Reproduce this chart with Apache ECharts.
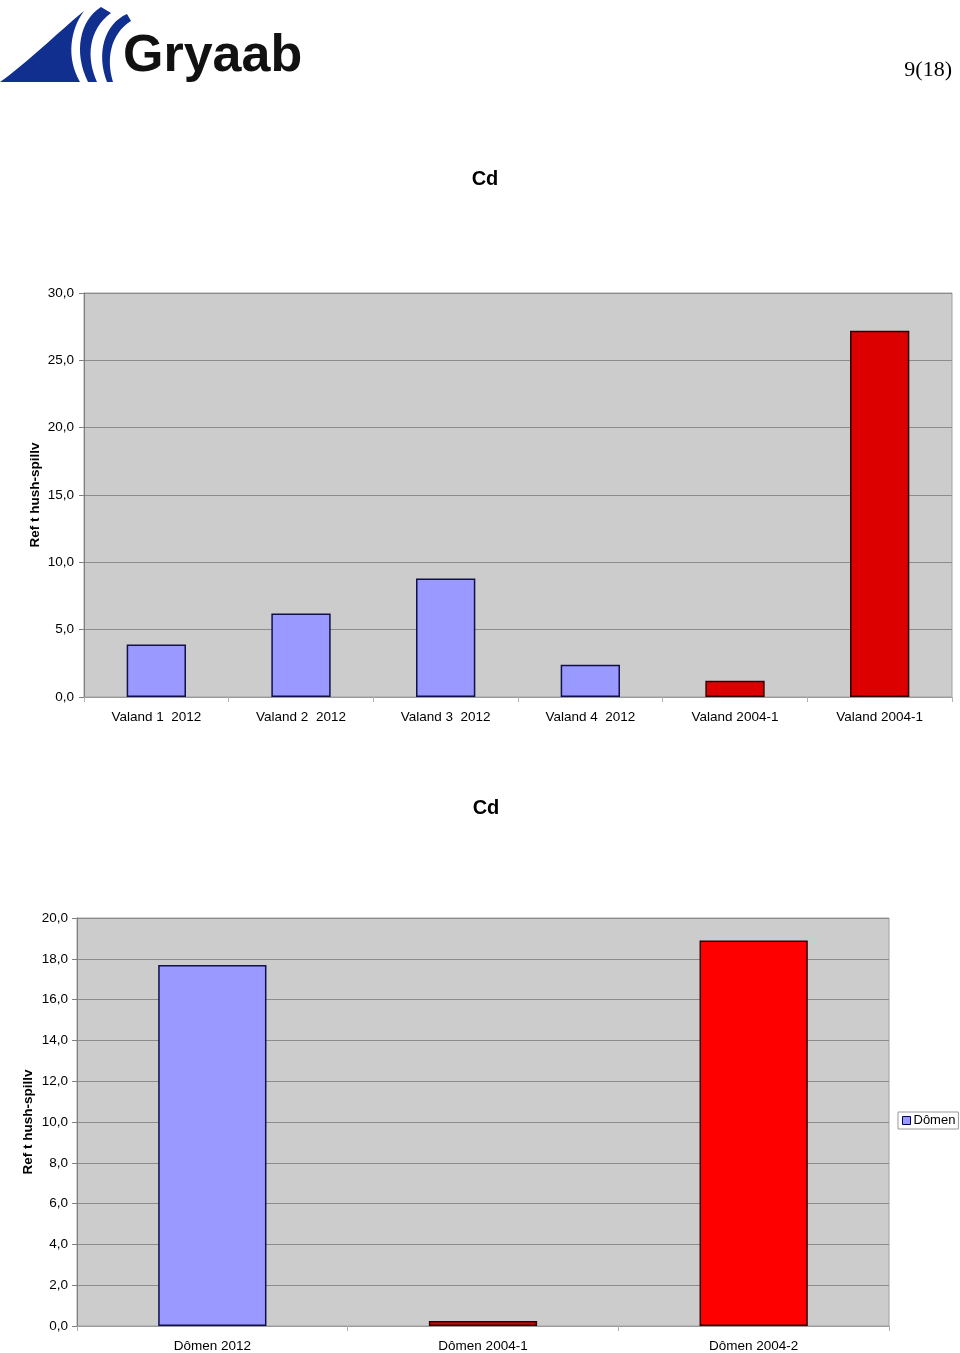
<!DOCTYPE html>
<html>
<head>
<meta charset="utf-8">
<script src="https://cdn.jsdelivr.net/npm/echarts@6/dist/echarts.min.js"></script>
<style>
html,body{margin:0;padding:0;background:#fff;}
#c{width:960px;height:1353px;}
</style>
</head>
<body>
<div id="c"></div>
<script>
// ---- data ----
const topTitle = 'Cd';
const topCategories = ['Valand 1  2012', 'Valand 2  2012', 'Valand 3  2012', 'Valand 4  2012', 'Valand 2004-1', 'Valand 2004-1'];
const topValues = [3.9, 6.2, 8.8, 2.4, 1.2, 27.2];
const topTicks = [0, 5, 10, 15, 20, 25, 30];

const bottomTitle = 'Cd';
const bottomSeriesName = 'Dômen';
const bottomCategories = ['Dômen 2012', 'Dômen 2004-1', 'Dômen 2004-2'];
const bottomValues = [17.7, 0.25, 18.9];
const bottomTicks = [0, 2, 4, 6, 8, 10, 12, 14, 16, 18, 20];

const yAxisName = 'Ref t hush-spillv';
const pageLabel = '9(18)';
const logoText = 'Gryaab';

// ---- styles ----
const BLUE = '#9999FF';
const DARKRED = '#DD0000';
const RED = '#FF0000';
const fmt = v => v.toFixed(1).replace('.', ',');
const baseFont = 'Liberation Sans, Arial, sans-serif';

function topColor(cat){ return cat.indexOf('2004') >= 0 ? DARKRED : BLUE; }
const bottomColorByIndex = [BLUE, DARKRED, RED];

// logo outline helper: sample cubic bezier segments into polygon points
function bez(p0, p1, p2, p3, n){
  const pts = [];
  for (let i = 0; i <= n; i++){
    const t = i / n, u = 1 - t;
    pts.push([
      u*u*u*p0[0] + 3*u*u*t*p1[0] + 3*u*t*t*p2[0] + t*t*t*p3[0],
      u*u*u*p0[1] + 3*u*u*t*p1[1] + 3*u*t*t*p2[1] + t*t*t*p3[1]
    ]);
  }
  return pts;
}
const logoMain = [].concat(bez([0,82],[28,62],[55,35],[84,11],16), bez([84,11],[70,30],[66,58],[80,82],16));
const logoArc1 = [].concat(bez([101,7],[80,20],[73,52],[88,82],16), [[97,82]], bez([97,82],[86,58],[88,30],[111,13],16));
const logoArc2 = [].concat(bez([127,14],[104,24],[96,54],[107,82],16), [[113,82]], bez([113,82],[106,60],[110,34],[131,21],16));

const chart = echarts.init(document.getElementById('c'), null, {renderer: 'canvas'});

function yAxisCfg(gridIndex, ticks, margin){
  return {
    type: 'value', gridIndex: gridIndex,
    min: ticks[0], max: ticks[ticks.length - 1], interval: ticks[1] - ticks[0],
    name: yAxisName, nameLocation: 'middle', nameGap: 42, nameRotate: 90,
    nameMoveOverlap: false,
    nameTextStyle: {fontFamily: baseFont, fontWeight: 'bold', fontSize: 13.5, color: '#000'},
    axisLine: {show: true, lineStyle: {color: '#808080', width: 1}},
    axisTick: {show: true, length: 5, lineStyle: {color: '#808080'}},
    axisLabel: {formatter: fmt, color: '#000', fontFamily: baseFont, fontSize: 13.5, margin: margin},
    splitLine: {show: true, lineStyle: {color: '#8c8c8c', width: 1}}
  };
}
function xAxisCfg(gridIndex, cats){
  return {
    type: 'category', gridIndex: gridIndex, data: cats,
    axisLine: {show: true, lineStyle: {color: '#9a9a9a', width: 1}},
    axisTick: {show: true, alignWithLabel: false, length: 5, lineStyle: {color: '#b0b0b0'}},
    axisLabel: {color: '#000', fontFamily: baseFont, fontSize: 13.5, margin: 13, interval: 0},
    splitLine: {show: false}
  };
}

const option = {
  animation: false,
  backgroundColor: '#fff',
  legend: {
    data: [bottomSeriesName],
    left: 898, top: 1112,
    orient: 'vertical',
    backgroundColor: '#fff', borderColor: '#999', borderWidth: 1,
    padding: [2, 3, 2, 4],
    itemWidth: 8, itemHeight: 8, itemGap: 3,
    icon: 'rect',
    itemStyle: {borderColor: '#000060', borderWidth: 1},
    textStyle: {fontFamily: baseFont, fontSize: 13, color: '#000', padding: [0, 0, 0, -2]}
  },
  grid: [
    {left: 84, top: 293, width: 868, height: 404, show: true, backgroundColor: '#CCCCCC', borderColor: '#a0a0a0', borderWidth: 1},
    {left: 77, top: 918, width: 812, height: 409, show: true, backgroundColor: '#CCCCCC', borderColor: '#a0a0a0', borderWidth: 1}
  ],
  xAxis: [xAxisCfg(0, topCategories), xAxisCfg(1, bottomCategories)],
  yAxis: [yAxisCfg(0, topTicks, 10), yAxisCfg(1, bottomTicks, 9)],
  series: [
    {
      name: 'Valand', type: 'bar', xAxisIndex: 0, yAxisIndex: 0, barWidth: '41%',
      data: topValues.map((v, i) => ({value: v, itemStyle: {color: topColor(topCategories[i]),
        borderColor: topColor(topCategories[i]) === BLUE ? '#10104a' : '#300000'}})),
      itemStyle: {borderWidth: 1.5}
    },
    {
      name: bottomSeriesName, type: 'bar', xAxisIndex: 1, yAxisIndex: 1, barWidth: '40%',
      itemStyle: {color: BLUE, borderWidth: 1.5, borderColor: '#10104a'},
      data: bottomValues.map((v, i) => ({value: v, itemStyle: {color: bottomColorByIndex[i],
        borderColor: i === 0 ? '#10104a' : '#300000'}}))
    }
  ],
  graphic: [
    {type: 'polygon', shape: {points: logoMain}, style: {fill: '#102f8e'}},
    {type: 'polygon', shape: {points: logoArc1}, style: {fill: '#102f8e'}},
    {type: 'polygon', shape: {points: logoArc2}, style: {fill: '#102f8e'}},
    {type: 'text', x: 123, y: 57, style: {text: logoText, fill: '#111', font: 'bold 52px Liberation Sans, Arial, sans-serif', textAlign: 'left', textVerticalAlign: 'middle'}},
    {type: 'text', x: 952, y: 70, style: {text: pageLabel, fill: '#000', font: '22px Liberation Serif, Times New Roman, serif', textAlign: 'right', textVerticalAlign: 'middle'}},
    {type: 'text', x: 485, y: 179, style: {text: topTitle, fill: '#000', font: 'bold 20px Liberation Sans, Arial, sans-serif', textAlign: 'center', textVerticalAlign: 'middle'}},
    {type: 'text', x: 486, y: 808, style: {text: bottomTitle, fill: '#000', font: 'bold 20px Liberation Sans, Arial, sans-serif', textAlign: 'center', textVerticalAlign: 'middle'}}
  ]
};
chart.setOption(option);
</script>
</body>
</html>
